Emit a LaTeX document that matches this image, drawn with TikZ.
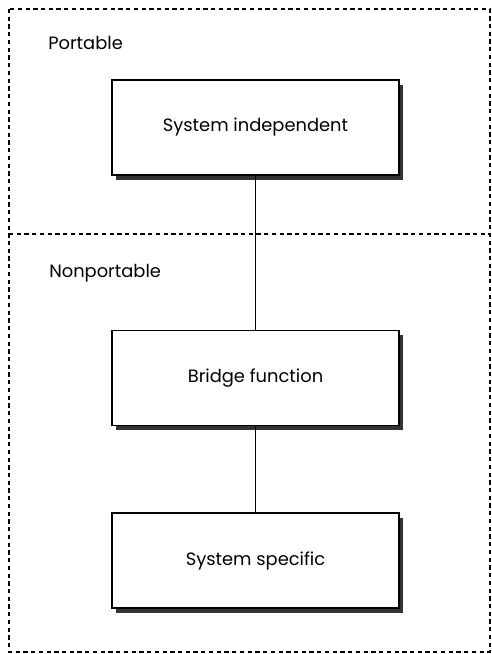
\documentclass[tikz,border=0pt]{standalone}
\usepackage{fontspec}
\setmainfont{Poppins}
\usetikzlibrary{shadows}
\begin{document}
\begin{tikzpicture}[x=0.75pt,y=-0.75pt,
  blk/.style={draw=black,line width=1pt,fill=white,minimum width=287*0.75pt,minimum height=95*0.75pt,
    inner sep=0pt,font=\fontsize{13.4}{16}\selectfont,
    drop shadow={shadow xshift=3pt,shadow yshift=-3.5pt,fill=black!80,opacity=1}},
  border/.style={line width=1.1pt,dash pattern=on 3.2pt off 2.6pt},
  lbl/.style={anchor=base west,inner sep=0pt,font=\fontsize{13.4}{16}\selectfont},
  conn/.style={line width=1pt}]
\useasboundingbox (0,0) rectangle (492,654);
\draw[border] (9,9) rectangle (490,652);
\draw[border] (9,234) -- (490,234);
\node[lbl] (portable) at (48,49) {Portable};
\node[lbl] (nonportable) at (49,277) {Nonportable};
\node[blk] (indep) at (255.5,127.5) {System independent};
\node[blk] (bridge) at (255.5,378) {Bridge function};
\node[blk] (spec) at (255.5,560.5) {System specific};
\draw[conn] (indep.south) -- (bridge.north);
\draw[conn] (bridge.south) -- (spec.north);
\end{tikzpicture}
\end{document}
